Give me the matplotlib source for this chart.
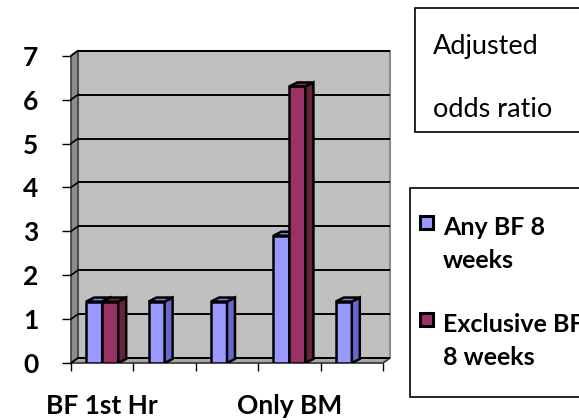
import matplotlib
matplotlib.use("Agg")
import matplotlib.pyplot as plt
from matplotlib.patches import Polygon, Rectangle
import numpy as np

plt.rcParams["font.family"] = ["Lato", "DejaVu Sans"]

# data
categories = ["BF 1st Hr", "", "", "Only BM", ""]
series_names = ["Any BF 8\nweeks", "Exclusive BF\n8 weeks"]
any_bf = [1.4, 1.4, 1.4, 2.9, 1.4]
exclusive_bf = [1.4, None, None, 6.3, None]
y_ticks = [0, 1, 2, 3, 4, 5, 6, 7]

front_colors = ["#9999FF", "#993366"]
side_colors = ["#6666CC", "#66223F"]
top_colors = ["#8080E6", "#7A2A52"]

W, H = 579, 420
fig = plt.figure(figsize=(W / 100, H / 100), dpi=100)

def fx(px):
    return px / W

def fy(py):
    return 1 - py / H

# axes: category edges 0..5 -> 71..383 px, value 0 -> 363 px, 43.9 px per unit
x_px = 62.4
y_px = 43.9
ax_l, ax_r, ax_b, ax_t = 71, 392, 363, 48
ax = fig.add_axes([fx(ax_l), fy(ax_b), (ax_r - ax_l) / W, (ax_b - ax_t) / H])
ax.set_xlim(0, (ax_r - ax_l) / x_px)
ax.set_ylim(0, (ax_b - ax_t) / y_px)
ax.set_facecolor("none")
for s in ax.spines.values():
    s.set_visible(False)

n = len(categories)
ymax = max(y_ticks)
ddx, ddy = 7 / x_px, 5 / y_px

# walls and floor
ax.add_patch(Polygon([(ddx, ddy), (n + ddx, ddy), (n + ddx, ymax + ddy), (ddx, ymax + ddy)],
                     closed=True, facecolor="#C0C0C0", edgecolor="#8A8A8A", lw=1.5, zorder=0.5,
                     clip_on=False))
ax.add_patch(Polygon([(0, 0), (ddx, ddy), (ddx, ymax + ddy), (0, ymax)],
                     closed=True, facecolor="#8C8C8C", edgecolor="#404040", lw=1.2, zorder=0.6,
                     clip_on=False))
ax.add_patch(Polygon([(0, 0), (n, 0), (n + ddx, ddy), (ddx, ddy)],
                     closed=True, facecolor="#A8A8A8", edgecolor="#303030", lw=1.2, zorder=0.6,
                     clip_on=False))

# gridlines on the back wall, joined to the ticks across the side wall
for v in y_ticks:
    ax.plot([ddx, n + ddx], [v + ddy, v + ddy], color="black", lw=1.4, zorder=0.8,
            solid_capstyle="butt", clip_on=False)
    ax.plot([0, ddx], [v, v + ddy], color="black", lw=1.2, zorder=0.8, clip_on=False)

# bars with side and top faces
bw = 16 / x_px
bdx, bdy = 8 / x_px, 4 / y_px
centers = np.arange(n) + 0.5
for k, vals in enumerate([any_bf, exclusive_bf]):
    for i, v in enumerate(vals):
        if v is None:
            continue
        x0 = centers[i] - bw + k * bw
        z = 2 + k + i * 0.01
        ax.bar(x0, v, width=bw, align="edge", color=front_colors[k], edgecolor="black",
               lw=1.8, zorder=z)
        x1 = x0 + bw
        ax.add_patch(Polygon([(x1, 0), (x1 + bdx, bdy), (x1 + bdx, v + bdy), (x1, v)],
                             closed=True, facecolor=side_colors[k], edgecolor="black",
                             lw=1.8, zorder=z))
        ax.add_patch(Polygon([(x0, v), (x0 + bdx, v + bdy), (x1 + bdx, v + bdy), (x1, v)],
                             closed=True, facecolor=top_colors[k], edgecolor="black",
                             lw=1.8, zorder=z))

# axes ticks and labels
ax.set_yticks(y_ticks)
ax.set_yticklabels([str(t) for t in y_ticks], fontsize=19, fontweight="bold")
ax.tick_params(axis="y", length=6.5, width=1, pad=17, color="black")
ax.set_xticks(np.arange(n + 1))
ax.set_xticklabels([""] * (n + 1))
ax.tick_params(axis="x", which="major", length=6, width=1, color="black")
ax.set_xticks(centers, minor=True)
ax.set_xticklabels(categories, minor=True, fontsize=19, fontweight="bold")
ax.tick_params(axis="x", which="minor", length=0, pad=22)

# title box
fig.patches.append(Rectangle((fx(415), fy(132)), fx(600) - fx(415), fy(8) - fy(132),
                             transform=fig.transFigure, facecolor="white",
                             edgecolor="black", lw=1.2))
fig.text(fx(433), fy(54), "Adjusted", fontsize=19.5, va="baseline", ha="left")
fig.text(fx(433), fy(117), "odds ratio", fontsize=19.5, va="baseline", ha="left")

# legend box
fig.patches.append(Rectangle((fx(410), fy(397)), fx(600) - fx(410), fy(188) - fy(397),
                             transform=fig.transFigure, facecolor="white",
                             edgecolor="black", lw=1.2))
entry_tops = [216, 313]
for k, name in enumerate(series_names):
    t = entry_tops[k]
    fig.patches.append(Rectangle((fx(420), fy(t + 13)), 13 / W, 13 / H,
                                 transform=fig.transFigure, facecolor=front_colors[k],
                                 edgecolor="black", lw=2.2))
    lines = name.split("\n")
    fig.text(fx(443), fy(t + 19), lines[0], fontsize=18, fontweight="bold",
             va="baseline", ha="left")
    fig.text(fx(443), fy(t + 52), lines[1], fontsize=18, fontweight="bold",
             va="baseline", ha="left")

fig.savefig("out.png", dpi=100)
